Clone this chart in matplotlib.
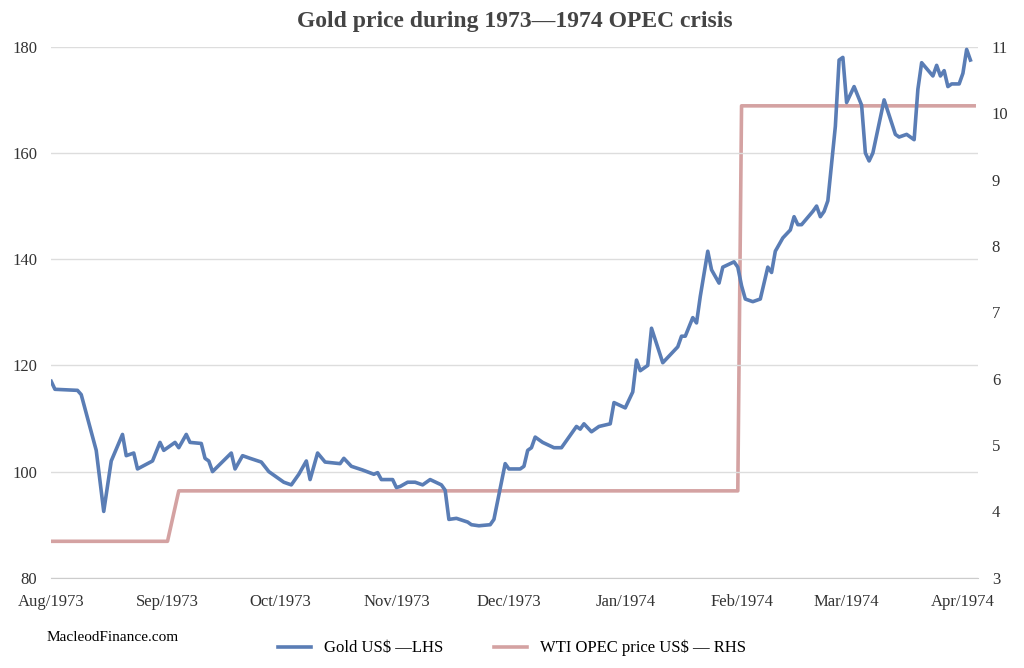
import matplotlib.pyplot as plt
import matplotlib.dates as mdates
import pandas as pd

plt.rcParams['font.family'] = ['Liberation Serif', 'DejaVu Serif']

# gold: days after 1973-08-01, price US$
gold_days = [0, 1, 7, 8, 12, 14, 16, 19, 20, 22, 23, 27, 29, 30, 33, 34, 36, 37, 40, 41, 42, 43,
             48, 49, 51, 53, 56, 58, 62, 64, 66, 68, 69, 71, 73, 77, 78, 80, 83, 86, 87, 88, 91,
             92, 93, 95, 97, 99, 101, 104, 105, 106, 108, 111, 112, 114, 117, 118, 121, 122,
             125, 126, 127, 128, 129, 131, 134, 136, 138, 140, 141, 142, 144, 146, 149, 150,
             153, 155, 156, 157, 159, 160, 163, 167, 168, 169, 171, 172, 173, 175, 176, 178,
             179, 182, 183, 184, 185, 187, 189, 191, 192, 193, 195, 197, 198, 199, 200, 203,
             204, 205, 206, 207, 208, 209, 210, 211, 212, 214, 216, 217, 218, 219, 222, 225,
             226, 228, 230, 231, 232, 235, 236, 237, 238, 239, 240, 242, 243, 244, 245]
gold_price = [117, 115.5, 115.3, 114.5, 104, 92.5, 102, 107, 103, 103.5, 100.5, 102, 105.5, 104,
              105.5, 104.5, 107, 105.5, 105.3, 102.5, 102, 100, 103.5, 100.5, 103, 102.5, 101.8,
              100, 98, 97.5, 99.5, 102, 98.5, 103.5, 101.8, 101.5, 102.5, 101, 100.3, 99.5, 99.8,
              98.5, 98.5, 97, 97.2, 98, 98, 97.5, 98.5, 97.5, 96.5, 91, 91.2, 90.5, 90, 89.8, 90,
              91, 101.5, 100.5, 100.5, 101, 104, 104.5, 106.5, 105.5, 104.5, 104.5, 106.5, 108.5,
              108, 109, 107.5, 108.5, 109, 113, 112, 115, 121, 119, 120, 127, 120.5, 123.5, 125.5,
              125.5, 129, 128, 133, 141.5, 138, 135.5, 138.5, 139.5, 138.5, 135, 132.5, 132,
              132.5, 138.5, 137.5, 141.5, 144, 145.5, 148, 146.5, 146.5, 149, 150, 148, 149, 151,
              158, 165, 177.5, 178, 169.5, 172.5, 169, 160, 158.5, 160, 170, 163.5, 163, 163.5,
              162.5, 172, 177, 174.5, 176.5, 174.5, 175.5, 172.5, 173, 173, 175, 179.5, 177.5]
gold_days = gold_days[:len(gold_price)]

oil_days = [0, 31, 34, 183, 184, 246]
oil_price = [3.55, 3.55, 4.31, 4.31, 10.11, 10.11]

start = pd.Timestamp('1973-08-01')
gold_dates = start + pd.to_timedelta(gold_days, unit='D')
oil_dates = start + pd.to_timedelta(oil_days, unit='D')

fig, ax = plt.subplots(figsize=(10.24, 6.68), dpi=100)
ax2 = ax.twinx()
l1, = ax.plot(gold_dates, gold_price, color='#5a7db5', lw=2.6, label='Gold US$ \u2014LHS')
l2, = ax2.plot(oil_dates, oil_price, color='#d4a2a2', lw=2.6, label='WTI OPEC price US$ \u2014 RHS')
ax.set_zorder(ax2.get_zorder() + 1)
ax.patch.set_visible(False)

ax.set_ylim(80, 180)
ax2.set_ylim(3, 11)
ax.set_yticks(range(80, 181, 20))
ax2.set_yticks(range(3, 12))
ax.set_xlim(start, pd.Timestamp('1974-04-05'))
ax.xaxis.set_major_locator(mdates.MonthLocator())
ax.xaxis.set_major_formatter(mdates.DateFormatter('%b/%Y'))
ax.grid(axis='y', color='#dddddd', lw=1)
for a in (ax, ax2):
    for s in ('top', 'left', 'right'):
        a.spines[s].set_visible(False)
    a.tick_params(length=0, labelsize=12, colors='#333333', pad=10)
ax.tick_params(axis='x', pad=12)
ax2.spines['bottom'].set_visible(False)
ax.spines['bottom'].set_color('#cccccc')
ax.set_title('Gold price during 1973\u20141974 OPEC crisis', fontsize=17, fontweight='bold',
             color='#444444', pad=14)
fig.legend(handles=[l1, l2], loc='lower center', ncol=2, frameon=False, fontsize=12,
           bbox_to_anchor=(0.5, -0.005), columnspacing=3)
fig.text(0.045, 0.04, 'MacleodFinance.com', fontsize=11)
fig.subplots_adjust(left=0.05, right=0.955, top=0.93, bottom=0.135)
fig.savefig('out.png')
